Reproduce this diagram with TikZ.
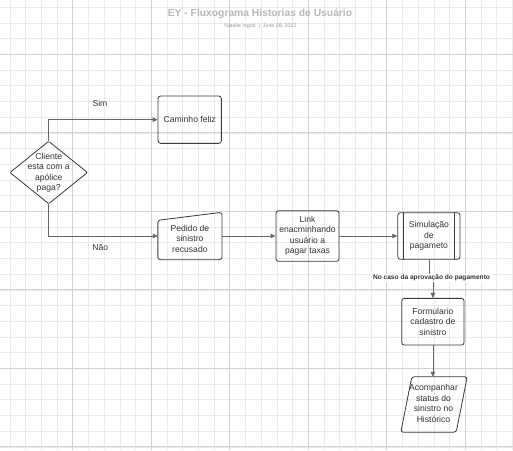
\documentclass[tikz,border=0pt]{standalone}
\usepackage{fontspec}
\setmainfont{Liberation Sans}
\usetikzlibrary{arrows.meta}
\definecolor{gridminor}{HTML}{EBEBEB}
\definecolor{gridmajor}{HTML}{D2D2D2}
\definecolor{edgecol}{HTML}{666666}
\definecolor{boxcol}{HTML}{3A3A3A}
\definecolor{txtcol}{HTML}{333333}
\definecolor{titlecol}{HTML}{B8B8B8}
\definecolor{subcol}{HTML}{9A9A9A}
\begin{document}
\begin{tikzpicture}[x=1pt,y=-1pt,
  txt/.style={font=\fontsize{8.6}{10.5}\selectfont, text=txtcol, align=center, inner sep=0pt},
  procbox/.style={txt, draw=boxcol, line width=0.8pt, rounded corners=2.5pt},
  outline/.style={draw=boxcol, line width=0.8pt, rounded corners=2.5pt},
  holder/.style={draw=none, inner sep=0pt},
  conn/.style={draw=edgecol, line width=0.8pt, -{Triangle[length=5pt,width=4.5pt]}},
  lbl/.style={font=\fontsize{8.6}{10}\selectfont, text=txtcol, inner sep=1pt}
]
\fill[white] (0,0) rectangle (513,450);
\useasboundingbox (0,0) rectangle (513,450);
% grid
\foreach \i in {0,...,32} \draw[gridminor, line width=0.6pt] ({9.9+15.7*\i},0) -- ({9.9+15.7*\i},450);
\foreach \j in {0,...,28} \draw[gridminor, line width=0.6pt] (0,{7.2+15.7*\j}) -- (513,{7.2+15.7*\j});
\foreach \i in {0,...,5} \draw[gridmajor, line width=0.7pt] ({72.7+78.5*\i},0) -- ({72.7+78.5*\i},450);
\foreach \j in {0,...,5} \draw[gridmajor, line width=0.7pt] (0,{54.3+78.5*\j}) -- (513,{54.3+78.5*\j});

% title
\node[font=\fontsize{10.3}{12}\selectfont\bfseries, text=titlecol, inner sep=0pt] (title) at (260,13.5) {EY - Fluxograma Historias de Usuário};
\node[font=\fontsize{5.3}{6}\selectfont, text=subcol, inner sep=0pt] (sub) at (260.5,26) {Natalie Ingrid\ \ |\ \ June 28, 2022};

% decision
\node[holder, minimum width=77pt, minimum height=62pt] (dec) at (48.7,172.5) {};
\draw[outline, rounded corners=1pt] (dec.north) -- (dec.east) -- (dec.south) -- (dec.west) -- cycle;
\node[txt] (dectxt) at (48.7,172.7) {Cliente\\esta com a\\apólice\\paga?};

% boxes
\node[procbox, minimum width=63.3pt, minimum height=47.3pt] (cam) at (189.7,119.7) {Caminho feliz};

\node[holder, minimum width=63.7pt, minimum height=47pt] (ped) at (189.9,236) {};
\draw[outline] (ped.south west) -- ([yshift=-8pt]ped.north west) -- (ped.north east) -- (ped.south east) -- cycle;
\node[txt] (pedtxt) at (189.9,238.5) {Pedido de\\sinistro\\recusado};

\node[procbox, minimum width=63pt, minimum height=50.6pt] (link) at (307.5,236) {Link\\enacminhando\\usuário a\\pagar taxas};

\node[procbox, minimum width=62.3pt, minimum height=46.6pt] (simu) at (428.9,236) {Simulação\\de\\pagameto};
\draw[boxcol, line width=0.8pt] ([xshift=6pt]simu.north west) -- ([xshift=6pt]simu.south west);
\draw[boxcol, line width=0.8pt] ([xshift=-6pt]simu.north east) -- ([xshift=-6pt]simu.south east);

\node[procbox, minimum width=62.3pt, minimum height=46.7pt] (form) at (432.9,321.7) {Formulario\\cadastro de\\sinistro};

\node[holder, minimum width=66pt, minimum height=55pt] (acomp) at (434,404.5) {};
\draw[outline] ([xshift=11pt]acomp.north west) -- (acomp.north east) -- ([xshift=-11pt]acomp.south east) -- (acomp.south west) -- cycle;
\node[txt] (acomptxt) at (433.5,403.3) {Acompanhar\\status do\\sinistro no\\Histórico};

% connectors
\coordinate (labc) at (431.5,278);
\draw[conn] (dec.north) |- (cam.west);
\draw[conn] (dec.south) |- (ped.west);
\draw[conn] (ped.east) -- (link.west);
\draw[conn] (link.east) -- (simu.west);
\draw[conn] (simu.south) -- (simu.south |- labc) -- (form.north |- labc) -- (form.north);
\draw[conn] (form.south) -- (form.south |- acomp.north);

% labels
\node[lbl] (sim) at (100,103.3) {Sim};
\node[lbl] (nao) at (100.3,247.3) {Não};
\node[font=\fontsize{6.6}{8}\selectfont\bfseries, text=txtcol, fill=white, inner sep=1pt] (lab) at (labc) {No caso da aprovação do pagamento};
\end{tikzpicture}
\end{document}
